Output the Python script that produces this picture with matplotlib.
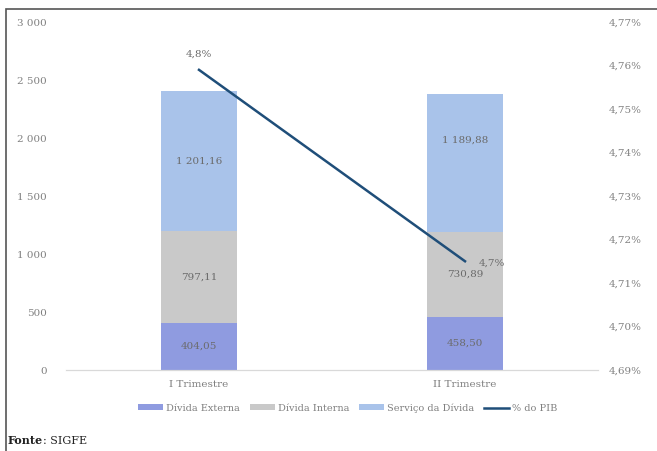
import matplotlib.pyplot as plt
import numpy as np
from matplotlib.patches import Rectangle

# data
categorias = ['I Trimestre', 'II Trimestre']
divida_externa = [404.05, 458.50]
divida_interna = [797.11, 730.89]
servico_divida = [1201.16, 1189.88]
pct_pib = [4.759, 4.715]
pct_labels = ['4,8%', '4,7%']
ext_labels = ['404,05', '458,50']
int_labels = ['797,11', '730,89']
serv_labels = ['1 201,16', '1 189,88']

plt.rcParams['font.family'] = ['DejaVu Serif']

c_ext = '#8f9be0'
c_int = '#c9c9c9'
c_serv = '#a9c3ea'
c_line = '#1f4e79'
c_txt = '#808080'

fig = plt.figure(figsize=(6.57, 4.51), dpi=100)
ax = fig.add_axes([66/657, 81/451, 532/657, 348/451])

x = np.arange(len(categorias))
w = 0.285
b1 = ax.bar(x, divida_externa, w, color=c_ext, label='Dívida Externa')
bottom2 = np.array(divida_externa)
b2 = ax.bar(x, divida_interna, w, bottom=bottom2, color=c_int, label='Dívida Interna')
bottom3 = bottom2 + np.array(divida_interna)
b3 = ax.bar(x, servico_divida, w, bottom=bottom3, color=c_serv, label='Serviço da Dívida')

serv_shift = [0, 195]  # label of 2nd bar sits higher in the original
for i in range(len(x)):
    ax.text(x[i], divida_externa[i]/2, ext_labels[i], ha='center', va='center', fontsize=7.5, color='#6b6b6b')
    ax.text(x[i], bottom2[i] + divida_interna[i]/2, int_labels[i], ha='center', va='center', fontsize=7.5, color='#6b6b6b')
    ax.text(x[i], bottom3[i] + servico_divida[i]/2 + serv_shift[i], serv_labels[i],
            ha='center', va='center', fontsize=7.5, color='#6b6b6b')

ax.set_xlim(-0.5, 1.5)
ax.set_ylim(0, 3000)
ax.set_yticks(np.arange(0, 3001, 500))
ax.set_yticklabels(['0', '500', '1 000', '1 500', '2 000', '2 500', '3 000'])
ax.set_xticks(x)
ax.set_xticklabels(categorias)

ax2 = ax.twinx()
l1, = ax2.plot(x, pct_pib, color=c_line, linewidth=1.8, label='% do PIB')
ax2.set_ylim(4.69, 4.77)
yt = np.round(np.arange(4.69, 4.7701, 0.01), 2)
ax2.set_yticks(yt)
ax2.set_yticklabels([('%.2f' % v).replace('.', ',') + '%' for v in yt])
ax2.text(x[0], pct_pib[0] + 0.0025, pct_labels[0], ha='center', va='bottom', fontsize=7.5, color='#6b6b6b')
ax2.text(x[1] + 0.05, pct_pib[1] - 0.0005, pct_labels[1], ha='left', va='center', fontsize=7.5, color='#6b6b6b')

#axis formatting
for a in (ax, ax2):
    for s in ['top', 'right', 'left']:
        a.spines[s].set_visible(False)
    a.spines['bottom'].set_color('#d9d9d9')
    a.tick_params(length=0, labelsize=7.5, colors=c_txt)
ax.tick_params(axis='y', pad=14)
ax2.tick_params(axis='y', pad=8)
ax.tick_params(axis='x', pad=7)

fig.legend(handles=[b1, b2, b3, l1], loc='center', bbox_to_anchor=(348/657, 1 - 408/451),
           ncol=4, frameon=False, fontsize=7, labelcolor=c_txt, handlelength=2.6,
           handleheight=0.55, columnspacing=1.0, handletextpad=0.3)

t = fig.text(8/657, 1 - 441/451, 'Fonte', fontsize=8, va='center', color='#222222', fontweight='bold')
fig.text(0, 0, '')
plt.annotate(': SIGFE', xy=(1, 0.5), xycoords=t, va='center', ha='left',
             fontsize=8, color='#222222', annotation_clip=False)

fig.patches.append(Rectangle((6/657, -0.05), 660/657, 1 - 9/451 + 0.05, transform=fig.transFigure,
                             fill=False, edgecolor='#555555', linewidth=1.2))

plt.savefig('out.png', dpi=100)
